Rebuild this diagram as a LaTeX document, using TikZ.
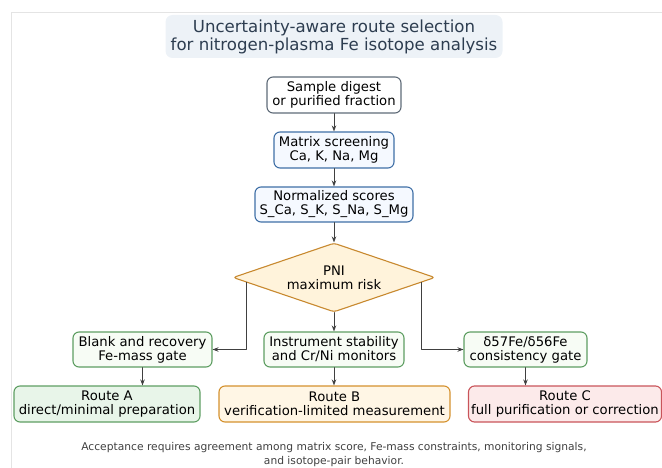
\documentclass[tikz,border=0pt]{standalone}
\usepackage{fontspec}
\setmainfont{DejaVu Sans}
\usetikzlibrary{shapes.geometric,arrows.meta,calc}

\definecolor{framegray}{HTML}{E4E4E4}
\definecolor{titlefill}{HTML}{EDF2F7}
\definecolor{titletext}{HTML}{2D3D50}
\definecolor{slateline}{HTML}{5F6B78}
\definecolor{blueline}{HTML}{3F6FA6}
\definecolor{bluefill}{HTML}{F5F9FF}
\definecolor{amberline}{HTML}{C8892F}
\definecolor{amberfill}{HTML}{FFF3DB}
\definecolor{greenline}{HTML}{5E9E62}
\definecolor{gatefill}{HTML}{F7FCF5}
\definecolor{routeAfill}{HTML}{E8F5E9}
\definecolor{orangeline}{HTML}{D4912E}
\definecolor{routeBfill}{HTML}{FFF6E5}
\definecolor{redline}{HTML}{C9545A}
\definecolor{routeCfill}{HTML}{FCEAEA}
\definecolor{arrowgray}{HTML}{404040}
\definecolor{notegray}{HTML}{404040}

\tikzset{
  box/.style={draw, rounded corners=6pt, line width=1.1pt, align=center, inner sep=0pt,
    minimum height=35pt, font=\fontsize{13.2}{14}\selectfont, text=black},
  inputbox/.style={box, draw=slateline, fill=white},
  screenbox/.style={box, draw=blueline, fill=bluefill},
  gatebox/.style={box, draw=greenline, fill=gatefill},
  decision/.style={diamond, draw=amberline, fill=amberfill, line width=1.1pt, rounded corners=3pt,
    inner sep=0pt, aspect=2.93, minimum width=202pt, minimum height=69pt, align=center,
    font=\fontsize{13.2}{14}\selectfont},
  flow/.style={draw=arrowgray, line width=0.9pt, -{Stealth[length=6pt,width=4.5pt]}}
}

\begin{document}
\begin{tikzpicture}[line cap=round,line join=round,x=1pt,y=-1pt]
	\useasboundingbox (0,0) rectangle (662,468);
	\draw [framegray, line width=0.8pt] (11,468) -- (11,12) -- (662,12);
	% title
	\node [fill=titlefill, rounded corners=7pt, minimum width=337pt, minimum height=43pt, inner sep=0pt,
		align=center, text=titletext, font=\fontsize{16.6}{18}\selectfont] (title) at (334,36.5)
		{Uncertainty-aware route selection\\for nitrogen-plasma Fe isotope analysis};
	% main column
	\node [inputbox, minimum width=134pt, minimum height=36pt] (sample) at (334,95) {Sample digest\\or purified fraction};
	\node [screenbox, minimum width=120pt, minimum height=36pt] (matrix) at (334,150) {Matrix screening\\Ca, K, Na, Mg};
	\node [screenbox, minimum width=158pt] (scores) at (334,204.5) {Normalized scores\\S\_Ca, S\_K, S\_Na, S\_Mg};
	\node [decision] (pni) at (334,277.5) {PNI\\maximum risk};
	% gates
	\node [gatebox, minimum width=139pt] (blank) at (142.5,349.5) {Blank and recovery\\Fe-mass gate};
	\node [gatebox, minimum width=140pt] (instr) at (334,349.5) {Instrument stability\\and Cr/Ni monitors};
	\node [gatebox, minimum width=123pt] (delta) at (525.5,349.5) {δ57Fe/δ56Fe\\consistency gate};
	% routes
	\node [box, draw=greenline, fill=routeAfill, minimum width=186pt, minimum height=36pt] (routeA) at (107,404) {Route A\\direct/minimal preparation};
	\node [box, draw=orangeline, fill=routeBfill, minimum width=231pt, minimum height=36pt] (routeB) at (334.5,404) {Route B\\verification-limited measurement};
	\node [box, draw=redline, fill=routeCfill, minimum width=193pt, minimum height=36pt] (routeC) at (565,404) {Route C\\full purification or correction};
	% connectors
	\draw [flow] (sample) -- (matrix);
	\draw [flow] (matrix) -- (scores);
	\draw [flow] (scores) -- (pni);
	\draw [flow] ($(pni.west)!0.14!(pni.south)$) |- (blank.east);
	\draw [flow] (pni.south) -- (instr.north);
	\draw [flow] ($(pni.east)!0.14!(pni.south)$) |- (delta.west);
	\draw [flow] (blank.south) -- (blank.south |- routeA.north);
	\draw [flow] (instr.south) -- (instr.south |- routeB.north);
	\draw [flow] (delta.south) -- (delta.south |- routeC.north);
	% note
	\node [align=center, text=notegray, font=\fontsize{10.7}{14}\selectfont] (note) at (334,455)
		{Acceptance requires agreement among matrix score, Fe-mass constraints, monitoring signals,\\and isotope-pair behavior.};
\end{tikzpicture}
\end{document}
